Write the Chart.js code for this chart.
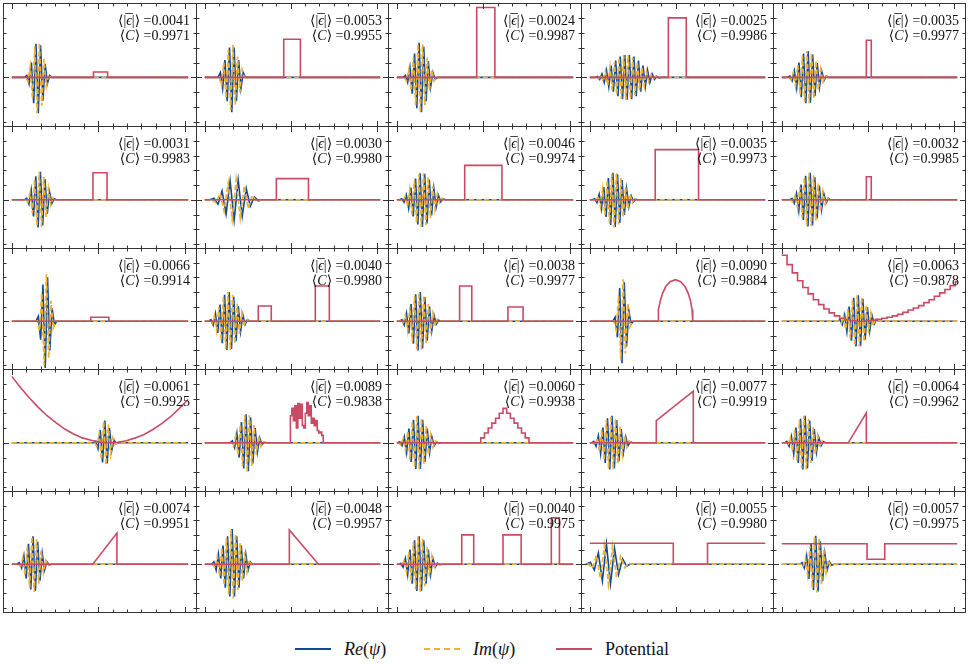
<!DOCTYPE html>
<html>
<head>
<meta charset="utf-8">
<script src="https://cdn.jsdelivr.net/npm/chart.js@4.4.0/dist/chart.umd.min.js"></script>
<style>
  body { margin: 0; background: #fff; width: 969px; height: 664px; overflow: hidden; position: relative; }
  canvas.cell { position: absolute; }
  .lg-line { position: absolute; width: 36px; height: 0; }
  .lg-text { position: absolute; top: 639px; font: 18px "Liberation Serif", "DejaVu Serif", serif; line-height: 20px; color: #111; white-space: nowrap; }
</style>
</head>
<body>
<div class="lg-line" style="left:295px;top:648px;border-top:2px solid #0d4a9c"></div>
<div class="lg-text" style="left:344px"><i>Re</i>(<i>ψ</i>)</div>
<div class="lg-line" style="left:424px;top:648px;border-top:2px dashed #f0b030"></div>
<div class="lg-text" style="left:473px"><i>Im</i>(<i>ψ</i>)</div>
<div class="lg-line" style="left:556px;top:648px;border-top:2px solid #c94a64"></div>
<div class="lg-text" style="left:605px">Potential</div>
<script>
// grid of 5x5 panels
const colEdges = [3, 196, 388, 581, 773, 965];
const rowEdges = [3, 126, 248, 369, 491, 612];

const errLabels = ['0.0041','0.0053','0.0024','0.0025','0.0035',
                   '0.0031','0.0030','0.0046','0.0035','0.0032',
                   '0.0066','0.0040','0.0038','0.0090','0.0063',
                   '0.0061','0.0089','0.0060','0.0077','0.0064',
                   '0.0074','0.0048','0.0040','0.0055','0.0057'];
const corrLabels = ['0.9971','0.9955','0.9987','0.9986','0.9977',
                    '0.9983','0.9980','0.9974','0.9973','0.9985',
                    '0.9914','0.9980','0.9977','0.9884','0.9878',
                    '0.9925','0.9838','0.9938','0.9919','0.9962',
                    '0.9951','0.9957','0.9975','0.9980','0.9975'];

// wave packet: first extremum position and half period (x units, 0..100)
const packetStart = [8.5, 8.9, 4.85, 4.35, 4.6,
                     8.4, 5.25, 2.8, 2.8, 5.8,
                     15.05, 3.5, 2.9, 14.45, 33.2,
                     47.55, 15.7, 1.65, 2.3, 2.9,
                     4.25, 5.2, 2.25, 0.3, 11.55];
const packetStep = [1.3, 1.3, 1.3, 1.3, 1.3,
                    1.3, 2.3, 1.3, 1.3, 1.3,
                    1.3, 1.3, 1.3, 1.3, 1.3,
                    1.3, 1.3, 1.3, 1.3, 1.3,
                    1.3, 1.3, 1.3, 2.3, 1.3];

// Re(psi) extrema
const reVals = [
  [0.04,-0.13,0.3,-0.52,0.68,-0.72,0.65,-0.47,0.27,-0.12,0.04],
  [0.1,-0.22,0.35,-0.48,0.6,-0.7,0.6,-0.48,0.35,-0.22,0.1],
  [0.04,-0.1,0.2,-0.33,0.48,-0.62,0.7,-0.7,0.62,-0.48,0.33,-0.2,0.1,-0.04],
  [0.02,-0.04,0.07,-0.1,0.14,-0.19,0.24,-0.29,0.34,-0.38,0.42,-0.44,0.45,-0.45,0.45,-0.44,0.42,-0.38,0.34,-0.29,0.24,-0.19,0.14,-0.1,0.07,-0.04,0.02,-0.01],
  [0.03,-0.07,0.13,-0.21,0.3,-0.4,0.48,-0.52,0.53,-0.51,0.46,-0.38,0.29,-0.2,0.12,-0.06,0.03],
  [0.03,-0.09,0.2,-0.34,0.48,-0.56,0.57,-0.52,0.42,-0.28,0.16,-0.07,0.02],
  [0.03,-0.09,0.18,-0.29,0.38,-0.41,0.4,-0.33,0.23,-0.13,0.06,-0.02],
  [0.02,-0.05,0.1,-0.17,0.25,-0.34,0.43,-0.5,0.54,-0.55,0.53,-0.48,0.41,-0.32,0.23,-0.15,0.09,-0.04,0.02],
  [0.02,-0.06,0.11,-0.18,0.26,-0.35,0.44,-0.51,0.55,-0.55,0.52,-0.47,0.4,-0.31,0.22,-0.14,0.08,-0.04,0.01],
  [0.03,-0.07,0.13,-0.22,0.31,-0.41,0.49,-0.54,0.55,-0.52,0.46,-0.38,0.29,-0.2,0.12,-0.06,0.03],
  [0.1,-0.38,0.75,-0.96,0.9,-0.6,0.27,-0.08],
  [0.03,-0.08,0.15,-0.24,0.34,-0.45,0.54,-0.59,0.6,-0.57,0.5,-0.41,0.31,-0.21,0.13,-0.07,0.03],
  [0.03,-0.08,0.16,-0.25,0.35,-0.46,0.55,-0.6,0.6,-0.56,0.49,-0.4,0.3,-0.2,0.12,-0.06,0.02],
  [0.08,-0.33,0.68,-0.86,0.8,-0.52,0.22,-0.06],
  [0.03,-0.07,0.13,-0.21,0.3,-0.4,0.48,-0.52,0.53,-0.51,0.46,-0.38,0.29,-0.2,0.12,-0.06,0.03],
  [0.03,-0.12,0.26,-0.4,0.45,-0.42,0.3,-0.16,0.06,-0.02],
  [0.04,-0.1,0.19,-0.3,0.42,-0.52,0.58,-0.58,0.52,-0.42,0.3,-0.19,0.1,-0.04,0.01],
  [0.02,-0.06,0.12,-0.2,0.29,-0.39,0.47,-0.53,0.55,-0.53,0.47,-0.39,0.29,-0.2,0.12,-0.06,0.02,-0.01],
  [0.03,-0.07,0.14,-0.22,0.31,-0.41,0.5,-0.54,0.55,-0.52,0.46,-0.38,0.28,-0.19,0.12,-0.06,0.02],
  [0.03,-0.07,0.13,-0.22,0.31,-0.41,0.49,-0.54,0.55,-0.52,0.45,-0.37,0.28,-0.19,0.11,-0.06,0.02],
  [0.03,-0.08,0.17,-0.29,0.42,-0.52,0.57,-0.55,0.46,-0.34,0.22,-0.12,0.05,-0.02],
  [0.05,-0.12,0.2,-0.29,0.38,-0.48,0.57,-0.66,0.72,-0.66,0.57,-0.48,0.38,-0.29,0.2,-0.12,0.05],
  [0.02,-0.06,0.12,-0.21,0.3,-0.4,0.49,-0.55,0.57,-0.55,0.49,-0.4,0.3,-0.21,0.12,-0.06,0.02,-0.01],
  [0.04,-0.12,0.23,-0.34,0.41,-0.4,0.32,-0.21,0.11,-0.04,0.01],
  [0.03,-0.08,0.17,-0.3,0.43,-0.53,0.58,-0.56,0.47,-0.35,0.22,-0.12,0.05,-0.02]
];

// Im(psi) extrema, a quarter period after the Re ones
const imVals = [
  [-0.08,0.22,-0.42,0.62,-0.72,0.7,-0.57,0.37,-0.18,0.06],
  [-0.16,0.3,-0.42,0.55,-0.66,0.66,-0.55,0.42,-0.3,0.16],
  [-0.07,0.15,-0.27,0.4,-0.56,0.67,-0.71,0.67,-0.56,0.4,-0.27,0.15,-0.07],
  [-0.03,0.05,-0.08,0.12,-0.16,0.21,-0.26,0.31,-0.36,0.4,-0.43,0.45,-0.45,0.45,-0.43,0.4,-0.36,0.31,-0.26,0.21,-0.16,0.12,-0.08,0.05,-0.03,0.02,-0.01],
  [-0.05,0.1,-0.17,0.25,-0.35,0.44,-0.5,0.53,-0.52,0.49,-0.42,0.33,-0.24,0.16,-0.09,0.04],
  [-0.05,0.14,-0.27,0.41,-0.53,0.57,-0.55,0.47,-0.35,0.22,-0.11,0.04],
  [-0.06,0.13,-0.23,0.34,-0.4,0.41,-0.37,0.28,-0.18,0.09,-0.03],
  [-0.03,0.07,-0.13,0.21,-0.3,0.39,-0.47,0.52,-0.55,0.54,-0.51,0.45,-0.37,0.28,-0.19,0.12,-0.06,0.03],
  [-0.04,0.08,-0.14,0.22,-0.31,0.4,-0.48,0.53,-0.56,0.54,-0.5,0.44,-0.36,0.27,-0.18,0.11,-0.06,0.02],
  [-0.05,0.1,-0.17,0.26,-0.36,0.45,-0.52,0.55,-0.54,0.5,-0.42,0.33,-0.24,0.16,-0.09,0.04],
  [-0.2,0.58,-0.9,0.96,-0.76,0.42,-0.14],
  [-0.05,0.11,-0.19,0.29,-0.4,0.5,-0.57,0.6,-0.59,0.54,-0.46,0.36,-0.26,0.17,-0.1,0.05],
  [-0.05,0.12,-0.2,0.3,-0.41,0.51,-0.58,0.6,-0.58,0.53,-0.45,0.35,-0.25,0.16,-0.09,0.04],
  [-0.18,0.52,-0.8,0.86,-0.66,0.36,-0.12],
  [-0.05,0.1,-0.17,0.25,-0.35,0.44,-0.5,0.53,-0.52,0.49,-0.42,0.33,-0.24,0.16,-0.09,0.04],
  [-0.07,0.19,-0.34,0.44,-0.45,0.37,-0.23,0.1,-0.03],
  [-0.07,0.14,-0.24,0.36,-0.47,0.56,-0.59,0.56,-0.47,0.36,-0.24,0.14,-0.07,0.02],
  [-0.04,0.09,-0.16,0.24,-0.34,0.43,-0.5,0.55,-0.55,0.5,-0.43,0.34,-0.24,0.16,-0.09,0.04,-0.01],
  [-0.05,0.1,-0.18,0.27,-0.36,0.46,-0.53,0.55,-0.54,0.49,-0.42,0.33,-0.23,0.15,-0.09,0.04],
  [-0.05,0.1,-0.17,0.26,-0.36,0.45,-0.52,0.55,-0.54,0.49,-0.41,0.32,-0.23,0.15,-0.08,0.04],
  [-0.05,0.12,-0.23,0.36,-0.48,0.56,-0.57,0.51,-0.4,0.28,-0.17,0.08,-0.03],
  [-0.08,0.16,-0.25,0.34,-0.43,0.53,-0.62,0.7,-0.7,0.62,-0.53,0.43,-0.34,0.25,-0.16,0.08],
  [-0.04,0.09,-0.16,0.25,-0.35,0.45,-0.52,0.57,-0.57,0.52,-0.45,0.35,-0.25,0.16,-0.09,0.04,-0.01],
  [-0.08,0.18,-0.29,0.38,-0.41,0.37,-0.27,0.16,-0.07,0.02],
  [-0.05,0.12,-0.23,0.37,-0.49,0.57,-0.58,0.52,-0.41,0.29,-0.17,0.08,-0.03]
];

// potentials: x positions and values; stepped ones hold each value until the next x
const potStepped = [true,true,true,true,true, true,true,true,true,true,
                    true,true,true,false,true, false,true,true,false,false,
                    false,false,true,true,true];
const potX = [
  [0,46.3,54.3,100],
  [0,45,54.5,100],
  [0,45.3,55.6,100],
  [0,44.8,55,100],
  [0,48.2,51,100],
  [0,46,54,100],
  [0,40.8,59.1,100],
  [0,38.5,59.6,100],
  [0,37.3,62,100],
  [0,48.2,51,100],
  [0,44.8,55,100],
  [0,30.5,37.9,63,71,100],
  [0,35.6,42.5,63,71.6,100],
  [0,38.9,38.95,39.3,40.2,41.5,43.3,45.8,48.8,51.8,54.3,56.1,57.4,58.3,58.65,58.7,100],
  [0,3,6,9,12,15,18,21,24,27,30,33,36,39,42,45,48,51,54,57,60,63,66,69,72,75,78,81,84,87,90,93,96,99,100],
  [0,5,10,15,20,25,30,35,40,45,50,55,60,65,70,75,80,85,90,95,100],
  [0,48.8,49.65,50.5,51.35,52.2,53.05,53.9,54.75,55.6,56.45,57.3,58.15,59,59.85,60.7,61.55,62.4,63.25,64.1,64.95,65.8,66.65,67.5,100],
  [0,47.6,49.7,51.8,53.9,56,58.1,60.2,62.3,64.4,66.5,68.6,70.7,72.8,74.9,100],
  [0,37.9,37.9,59,59,100],
  [0,37.9,48.2,48.2,100],
  [0,45.9,59.6,59.6,100],
  [0,48.2,48.2,64.8,100],
  [0,36.8,43.6,60.2,70.5,87.6,92.2,100],
  [0,47.6,67.1,100],
  [0,48.6,58.7,100]
];
const potY = [
  [0,0.11,0,0],
  [0,0.77,0,0],
  [0,1.41,0,0],
  [0,1.2,0,0],
  [0,0.75,0,0],
  [0,0.55,0,0],
  [0,0.43,0,0],
  [0,0.7,0,0],
  [0,1.02,0,0],
  [0,0.47,0,0],
  [0,0.08,0,0],
  [0,0.31,0,0.72,0,0],
  [0,0.72,0,0.29,0,0],
  [0,0,0.1,0.24,0.42,0.57,0.71,0.81,0.85,0.81,0.71,0.57,0.42,0.24,0.1,0,0],
  [1.35,1.16,0.99,0.83,0.69,0.56,0.44,0.34,0.25,0.17,0.11,0.06,0.03,0.01,0,0,0.01,0.02,0.04,0.06,0.08,0.11,0.14,0.18,0.23,0.27,0.32,0.38,0.44,0.51,0.58,0.65,0.73,0.81,0.81],
  [1.35,1.12,0.91,0.72,0.55,0.41,0.28,0.18,0.1,0.05,0.01,0,0.01,0.04,0.1,0.17,0.27,0.39,0.53,0.7,0.88],
  [0,0.55,0.7,0.45,0.75,0.3,0.8,0.5,0.78,0.35,0.3,0.6,0.82,0.55,0.75,0.4,0.5,0.35,0.45,0.25,0.2,0.22,0.15,0,0],
  [0,0.1,0.2,0.3,0.4,0.5,0.6,0.7,0.6,0.5,0.4,0.3,0.2,0.1,0,0],
  [0,0,0.45,1.05,0,0],
  [0,0,0.61,0,0],
  [0,0,0.64,0,0],
  [0,0,0.7,0,0],
  [0,0.6,0,0.6,0,0.95,0,0],
  [0.43,0,0.43,0.43],
  [0.42,0.1,0.42,0.42]
];

const blue = '#0d4a9c';
const orange = '#f0b030';
const red = '#c94a64';
const axisColor = '#333';

// packet on a flat zero baseline: zero half a period before the first and after the last extremum
function packetPoints(k, vals, offset) {
  const s = packetStart[k], h = packetStep[k];
  const pts = [{x: 0, y: 0}, {x: s + (offset - 1) * h, y: 0}];
  vals.forEach((v, i) => pts.push({x: s + (i + offset) * h, y: v}));
  pts.push({x: s + (vals.length + offset) * h, y: 0});
  pts.push({x: 100, y: 0});
  return pts;
}

// frame, inward ticks and the two labels of each panel
const panelDecor = {
  id: 'panelDecor',
  afterDatasetsDraw(chart) {
    const ctx = chart.ctx;
    const a = chart.chartArea;
    const xs = chart.scales.x, ys = chart.scales.y;
    const k = chart.options.plugins.panelDecor.index;
    ctx.save();
    ctx.strokeStyle = axisColor;
    ctx.lineWidth = 1;
    ctx.strokeRect(a.left + 0.5, a.top + 0.5, a.right - a.left - 1, a.bottom - a.top - 1);
    ctx.beginPath();
    for (let i = -1; i <= 13; i++) {
      const v = i * 49 / 6;
      const px = Math.round(xs.getPixelForValue(v)) + 0.5;
      if (px < a.left + 2 || px > a.right - 2) continue;
      const len = i % 6 === 0 ? 6 : 3.5;
      ctx.moveTo(px, a.bottom); ctx.lineTo(px, a.bottom - len);
      ctx.moveTo(px, a.top); ctx.lineTo(px, a.top + len);
    }
    for (let i = -3; i <= 5; i++) {
      const v = i * 0.3;
      const py = Math.round(ys.getPixelForValue(v)) + 0.5;
      if (py < a.top + 2 || py > a.bottom - 2) continue;
      const len = i === 0 ? 6 : 3.5;
      ctx.moveTo(a.left, py); ctx.lineTo(a.left + len, py);
      ctx.moveTo(a.right, py); ctx.lineTo(a.right - len, py);
    }
    ctx.stroke();

    // labels
    const right = a.right - 7;
    const up = '14px "Liberation Serif", "DejaVu Serif", serif';
    const it = 'italic 14px "Liberation Serif", "DejaVu Serif", serif';
    ctx.fillStyle = '#111';
    ctx.textBaseline = 'alphabetic';
    const parts1 = [['⟨|', up], ['ϵ', it], ['|⟩ =' + errLabels[k], up]];
    const parts2 = [['⟨', up], ['C', it], ['⟩ =' + corrLabels[k], up]];
    [[parts1, 22], [parts2, 37]].forEach(([parts, base], row) => {
      const widths = parts.map(p => { ctx.font = p[1]; return ctx.measureText(p[0]).width; });
      let x = right - widths.reduce((s, w) => s + w, 0);
      parts.forEach((p, i) => {
        ctx.font = p[1];
        ctx.fillText(p[0], x, base);
        if (row === 0 && i === 1) {
          ctx.beginPath();
          ctx.moveTo(x - 1, base - 11.5); ctx.lineTo(x + widths[i] + 1, base - 11.5);
          ctx.strokeStyle = '#111'; ctx.lineWidth = 0.8; ctx.stroke();
        }
        x += widths[i];
      });
    });
    ctx.restore();
  }
};

for (let r = 0; r < 5; r++) {
  for (let c = 0; c < 5; c++) {
    const k = r * 5 + c;
    const cv = document.createElement('canvas');
    cv.className = 'cell';
    cv.width = colEdges[c + 1] - colEdges[c] + 1;
    cv.height = rowEdges[r + 1] - rowEdges[r] + 1;
    cv.style.left = colEdges[c] + 'px';
    cv.style.top = rowEdges[r] + 'px';
    document.body.appendChild(cv);

    const pot = potX[k].map((x, i) => ({x: x, y: potY[k][i]}));
    new Chart(cv, {
      type: 'line',
      data: {
        datasets: [
          {label: 'Potential', data: pot, borderColor: red, borderWidth: 1.6, pointRadius: 0, stepped: potStepped[k], order: 0},
          {label: 'Im', data: packetPoints(k, imVals[k], 0.5), borderColor: orange, borderWidth: 1.7, borderDash: [5, 2.5], pointRadius: 0, order: 1},
          {label: 'Re', data: packetPoints(k, reVals[k], 0), borderColor: blue, borderWidth: 1.6, pointRadius: 0, order: 2}
        ]
      },
      options: {
        responsive: false,
        animation: false,
        events: [],
        layout: {padding: 0},
        scales: {
          x: {type: 'linear', display: false, min: -5, max: 105},
          y: {display: false, min: -1, max: 1.5}
        },
        plugins: {
          legend: {display: false},
          tooltip: {enabled: false},
          panelDecor: {index: k}
        }
      },
      plugins: [panelDecor]
    });
  }
}
</script>
</body>
</html>
